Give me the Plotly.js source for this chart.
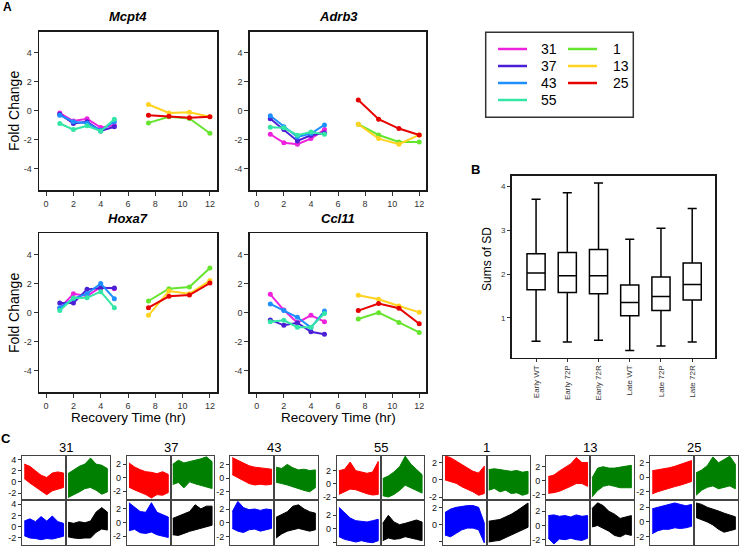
<!DOCTYPE html>
<html><head><meta charset="utf-8">
<script src="https://cdn.plot.ly/plotly-3.0.1.min.js"></script>
<style>html,body{margin:0;padding:0;background:#fff}</style></head>
<body><div id="chart" style="width:740px;height:547px"></div>
<script>
// ---------- DATA ----------
const earlyTimes = [1, 2, 3, 4, 5];
const lateTimes = [7.5, 9, 10.5, 12];
const earlyClusters = ['31', '37', '43', '55'];
const lateClusters = ['1', '13', '25'];
const legendCol1 = ['31', '37', '43', '55'];
const legendCol2 = ['1', '13', '25'];
const clusterColors = {'31':'#ee22dd','37':'#4b1fd6','43':'#1e8fff','55':'#33e6a6','1':'#66e52e','13':'#ffd320','25':'#e60000'};
const genes = ['Mcpt4', 'Adrb3', 'Hoxa7', 'Ccl11'];

const Mcpt4 = {'31':[-0.15,-0.7,-0.55,-1.15,-1.0],'37':[-0.23,-0.87,-0.75,-1.38,-1.1],'43':[-0.3,-0.75,-0.85,-1.35,-0.75],'55':[-0.87,-1.29,-1.03,-1.4,-0.57],
  '1':[-0.83,-0.41,-0.53,-1.54],'13':[0.44,-0.14,-0.09,-0.41],'25':[-0.3,-0.37,-0.48,-0.41]};
const Adrb3 = {'31':[-1.61,-2.2,-2.3,-1.91,-1.29],'37':[-0.55,-1.29,-2.07,-1.68,-1.52],'43':[-0.34,-1.1,-1.8,-1.56,-0.97],'55':[-1.13,-1.17,-1.68,-1.45,-1.61],
  '1':[-0.92,-1.66,-2.14,-2.14],'13':[-0.92,-1.91,-2.3,-1.66],'25':[0.74,-0.57,-1.22,-1.66]};
const Hoxa7 = {'31':[0.3,1.3,1.15,1.75,1.65],'37':[0.66,0.66,1.6,1.7,1.7],'43':[0.34,0.96,1.3,2.0,0.96],'55':[0.14,1.0,1.03,1.44,0.34],
  '1':[0.8,1.65,1.76,3.06],'13':[-0.18,1.49,1.3,2.2],'25':[0.34,1.12,1.21,2.03]};
const Ccl11 = {'31':[1.26,0.18,-0.69,-0.18,-0.62],'37':[-0.5,-0.87,-0.69,-1.31,-1.49],'43':[0.6,0.14,-0.32,-1.03,0.11],'55':[-0.62,-0.53,-1.0,-1.0,-0.05],
  '1':[-0.44,0.0,-0.67,-1.36],'13':[1.2,0.92,0.46,0.02],'25':[0.14,0.62,0.3,-0.76]};

const boxCats = ['Early WT','Early 72P','Early 72R','Late WT','Late 72P','Late 72R'];
const boxLow = [0.47,0.45,0.49,0.26,0.36,0.45];
const boxQ1 = [1.64,1.58,1.55,1.05,1.17,1.41];
const boxMed = [2.02,1.96,1.96,1.35,1.49,1.76];
const boxQ3 = [2.46,2.49,2.56,1.75,1.93,2.25];
const boxHigh = [3.70,3.85,4.07,2.79,3.04,3.49];

// Panel C: profile envelopes (upper / lower) per cluster and condition
const profileSteps = [0,1,2,3,4,5,6,7];
const conditionColors = {red:'#ff0000', green:'#008000', blue:'#0000ff', black:'#000000'};
const groupNames = ['31','37','43','55','1','13','25'];
const groupRanges = {'31':[-3.25,4.75],'37':[-3.3,3.3],'43':[-3.2,3.3],'55':[-2.45,4.3],'1':[-2.35,2.85],'13':[-2.75,3.6],'25':[-3.15,3.0]};
const groupTicks = {'31':[-2,0,2,4],'37':[-2,0,2],'43':[-2,0,2],'55':[-2,0,2],'1':[-2,0,2],'13':[-2,0,2],'25':[-2,0,2]};
const env31 = {red:{hi:[3.2,2.8,2.0,1.2,0.8,1.6,1.8,1.6],lo:[0.6,-0.2,-1.0,-1.6,-2.3,-1.6,-1.3,-1.0]},
  green:{hi:[1.5,2.2,2.8,3.2,4.3,3.2,3.0,2.4],lo:[-2.8,-2.3,-1.8,-1.2,-1.0,-1.5,-2.2,-1.8]},
  blue:{hi:[1.0,1.4,0.9,1.8,1.0,1.9,0.9,0.6],lo:[-1.6,-2.0,-2.1,-2.3,-2.1,-2.2,-1.9,-1.7]},
  black:{hi:[0.8,0.6,0.9,0.7,1.0,2.6,3.4,2.6],lo:[-1.8,-2.0,-2.1,-2.0,-2.0,-1.0,-0.4,-0.6]}};
const env37 = {red:{hi:[2.2,1.6,1.2,0.9,0.8,0.6,0.9,0.5],lo:[-1.4,-1.8,-2.2,-2.5,-3.0,-2.5,-2.6,-2.2]},
  green:{hi:[2.0,2.6,2.2,2.4,2.5,2.8,3.1,2.4],lo:[-1.0,-0.7,-1.5,-0.6,-0.9,-1.2,-1.4,-1.6]},
  blue:{hi:[2.9,2.2,1.6,1.5,2.9,1.5,1.2,0.8],lo:[-1.2,-1.0,-1.5,-1.6,-1.4,-1.8,-2.0,-2.2]},
  black:{hi:[0.6,0.9,1.2,1.6,2.6,2.0,2.4,2.4],lo:[-1.8,-1.9,-1.6,-1.3,-1.0,-0.8,-0.6,-0.4]}};
const env43 = {red:{hi:[3.0,2.6,2.2,1.8,1.6,1.5,1.4,1.3],lo:[0.5,0.0,-0.4,-0.8,-1.0,-0.9,-1.0,-0.9]},
  green:{hi:[1.6,1.4,2.0,1.5,1.2,1.3,1.1,1.2],lo:[-0.6,-0.8,-1.0,-1.2,-1.5,-1.8,-2.0,-1.4]},
  blue:{hi:[1.6,3.1,2.2,1.9,2.0,1.8,2.0,1.9],lo:[-0.8,-1.2,-1.4,-1.0,-0.9,-1.2,-1.0,-0.8]},
  black:{hi:[0.8,1.2,1.6,2.4,2.6,2.0,1.6,1.4],lo:[-2.2,-1.6,-1.2,-1.0,-0.8,-1.0,-1.2,-1.0]}};
const env55 = {red:{hi:[2.0,2.2,3.3,2.0,1.8,1.6,1.8,3.4],lo:[-1.6,-1.2,-0.8,-0.9,-1.2,-1.5,-1.7,-1.6]},
  green:{hi:[0.8,1.2,1.8,2.6,4.2,3.0,2.2,1.4],lo:[-1.8,-2.0,-1.6,-1.0,-0.2,-0.5,-1.0,-1.4]},
  blue:{hi:[3.2,2.4,1.6,1.2,1.1,1.0,1.2,1.4],lo:[-1.2,-1.6,-1.8,-2.0,-1.8,-2.0,-2.1,-1.8]},
  black:{hi:[0.8,2.0,1.0,0.6,0.8,1.0,1.3,1.0],lo:[-1.8,-1.4,-1.6,-1.5,-1.2,-1.4,-1.6,-1.8]}};
const env1 = {red:{hi:[2.8,2.6,2.2,1.8,1.4,1.0,0.8,1.6],lo:[0.0,-0.2,-0.4,-0.8,-1.1,-1.4,-1.8,-1.6]},
  green:{hi:[1.2,1.3,1.2,1.1,1.0,1.1,0.9,1.0],lo:[-1.2,-1.0,-1.4,-1.2,-1.6,-1.5,-1.8,-1.6]},
  blue:{hi:[1.4,1.8,2.0,2.1,2.2,2.2,2.0,0.2],lo:[-1.2,-1.4,-1.0,-0.6,-0.4,-0.4,-0.6,-2.1]},
  black:{hi:[0.4,0.5,0.6,0.9,1.2,1.6,2.0,2.5],lo:[-2.0,-1.9,-1.8,-1.5,-1.2,-0.9,-0.6,-0.3]}};
const env13 = {red:{hi:[0.6,0.8,1.4,1.9,2.4,3.3,2.6,2.6],lo:[-1.8,-1.7,-1.5,-1.2,-0.8,-0.4,-0.4,-0.8]},
  green:{hi:[0.4,1.8,2.0,1.8,1.8,1.9,2.0,2.2],lo:[-2.3,-1.4,-0.8,-0.6,-0.8,-1.0,-1.0,-1.0]},
  blue:{hi:[1.4,1.5,1.3,1.4,1.2,1.5,1.3,1.4],lo:[-1.8,-2.6,-1.9,-2.0,-1.8,-2.0,-2.1,-1.8]},
  black:{hi:[2.4,3.2,2.8,2.0,1.6,1.0,1.2,1.4],lo:[-0.2,0.0,-0.4,-0.8,-1.4,-1.6,-1.2,-1.4]}};
const env25 = {red:{hi:[0.9,1.0,1.2,1.3,1.5,1.8,2.0,2.3],lo:[-2.3,-2.0,-1.8,-1.5,-1.3,-1.1,-0.9,-0.6]},
  green:{hi:[0.6,1.0,1.6,2.8,2.0,2.4,2.9,1.8],lo:[-2.5,-1.8,-1.4,-1.2,-1.6,-1.4,-1.2,-1.6]},
  blue:{hi:[1.8,2.0,2.3,2.5,2.6,2.4,2.2,2.4],lo:[-1.6,-1.2,-1.0,-1.0,-0.8,-0.9,-0.8,-0.6]},
  black:{hi:[2.6,2.4,2.0,1.8,1.5,1.2,1.0,0.7],lo:[0.6,0.3,0.0,-0.4,-1.0,-1.4,-1.2,-1.0]}};
const groupEnvelopes = {'31':env31,'37':env37,'43':env43,'55':env55,'1':env1,'13':env13,'25':env25};

// ---------- BUILD ----------
const W = 740, H = 547;
const FONT = 'Liberation Sans, Arial, sans-serif';
const traces = [];
const layout = {width:W, height:H, margin:{l:0,r:0,t:0,b:0}, showlegend:false,
  paper_bgcolor:'#fff', plot_bgcolor:'rgba(0,0,0,0)', font:{family:FONT, color:'#000'},
  annotations:[], shapes:[]};
let n = 0;
function axes(l, r, t, b, xo, yo) {
  n++;
  const xk = n === 1 ? 'xaxis' : 'xaxis' + n, yk = n === 1 ? 'yaxis' : 'yaxis' + n;
  const xid = n === 1 ? 'x' : 'x' + n, yid = n === 1 ? 'y' : 'y' + n;
  layout[xk] = Object.assign({domain:[l/W, r/W], anchor:yid, showgrid:false, zeroline:false, fixedrange:true}, xo);
  layout[yk] = Object.assign({domain:[1-b/H, 1-t/H], anchor:xid, showgrid:false, zeroline:false, fixedrange:true}, yo);
  return [xid, yid];
}
function ann(text, x, y, o) {
  layout.annotations.push(Object.assign({text:text, x:x/W, y:1-y/H, xref:'paper', yref:'paper', showarrow:false,
    xanchor:'center', yanchor:'middle', font:{family:FONT, size:13, color:'#000'}}, o || {}));
}
const lab = v => v.map(t => String(t));

// Panel A
const geneData = {Mcpt4, Adrb3, Hoxa7, Ccl11};
const aBoxes = [[39.3,216.7,31.7,190],[250,426,31.7,190],[39.3,216.7,233.3,392],[250,426,233.3,392]];
const aTitleY = [17,17,218,218];
genes.forEach((g, i) => {
  const [l, r, t, b] = aBoxes[i];
  const common = {showline:true, mirror:true, linecolor:'#1a1a1a', linewidth:1.8, ticks:'outside', ticklen:4,
    tickwidth:1, tickcolor:'#333', tickfont:{family:FONT, size:9, color:'#333'}};
  const yv = [-4,-2,0,2,4], xv = [0,2,4,6,8,10,12];
  const [xa, ya] = axes(l, r, t, b,
    Object.assign({range:[-0.5,12.5], tickvals:xv, ticktext:lab(xv)}, common),
    Object.assign({range:[-5.45,5.45], tickvals:yv, ticktext:lab(yv)}, common));
  const d = geneData[g];
  earlyClusters.forEach(c => traces.push({x:earlyTimes, y:d[c], xaxis:xa, yaxis:ya, mode:'lines+markers',
    line:{color:clusterColors[c], width:2}, marker:{color:clusterColors[c], size:5}, name:c}));
  lateClusters.forEach(c => traces.push({x:lateTimes, y:d[c], xaxis:xa, yaxis:ya, mode:'lines+markers',
    line:{color:clusterColors[c], width:2}, marker:{color:clusterColors[c], size:5}, name:c}));
  ann('<b><i>' + g + '</i></b>', (l + r) / 2, aTitleY[i], {font:{family:FONT, size:13, color:'#000'}});
});
ann('Fold Change', 14, 111, {textangle:-90, font:{family:FONT, size:14}});
ann('Fold Change', 14, 313, {textangle:-90, font:{family:FONT, size:14}});
ann('Recovery Time (hr)', 128, 417, {font:{family:FONT, size:13.5}});
ann('Recovery Time (hr)', 338, 417, {font:{family:FONT, size:13.5}});
ann('<b>A</b>', 7, 7, {font:{family:FONT, size:12}});

// Legend (manual, two columns)
layout.shapes.push({type:'rect', xref:'paper', yref:'paper', x0:485.7/W, x1:633.3/W, y0:1-117.3/H, y1:1-32.3/H,
  line:{color:'#333', width:1.5}});
const legRows = [49, 66, 83, 100];
[[legendCol1, 498, 539], [legendCol2, 568, 611]].forEach(([items, lx, tx]) => {
  items.forEach((c, k) => {
    layout.shapes.push({type:'line', xref:'paper', yref:'paper', x0:lx/W, x1:(lx+29)/W, y0:1-legRows[k]/H, y1:1-legRows[k]/H,
      line:{color:clusterColors[c], width:2.5}});
    ann(c, tx, legRows[k], {xanchor:'left', font:{family:FONT, size:14}});
  });
});

// Panel B
{
  const common = {showline:true, mirror:true, linecolor:'#1a1a1a', linewidth:1.6, ticks:'outside', ticklen:3,
    tickcolor:'#333', tickfont:{family:FONT, size:8, color:'#333'}};
  const [xa, ya] = axes(511.7, 715, 176, 357.5,
    Object.assign({type:'category', range:[-0.78,5.73], tickangle:-90}, common),
    Object.assign({range:[0.1,4.23], tickvals:[1,2,3,4]}, common));
  traces.push({type:'box', x:boxCats, q1:boxQ1, median:boxMed, q3:boxQ3, lowerfence:boxLow, upperfence:boxHigh,
    xaxis:xa, yaxis:ya, fillcolor:'#fff', line:{color:'#000', width:1.5}, whiskerwidth:0.5, boxpoints:false});
  layout.boxgap = 0.17;
  ann('Sums of SD', 487, 259, {textangle:-90, font:{family:FONT, size:12}});
  ann('<b>B</b>', 475, 170, {font:{family:FONT, size:13}});
}

// Panel C
ann('<b>C</b>', 6, 438, {font:{family:FONT, size:13}});
const gStart = [22, 126.7, 230, 336.7, 442.7, 546, 650];
const subW = 43.8, rowY = [[455.5,500],[500,545]];
const layoutPos = {red:[0,0], green:[1,0], blue:[0,1], black:[1,1]};
groupNames.forEach((g, gi) => {
  const x0 = gStart[gi];
  ann(g, x0 + subW, 447, {font:{family:FONT, size:13}});
  const env = groupEnvelopes[g];
  Object.keys(layoutPos).forEach(cond => {
    const [cx, ry] = layoutPos[cond];
    const l = x0 + cx * subW, r = l + subW, t = rowY[ry][0], b = rowY[ry][1];
    const tv = groupTicks[g];
    const [xa, ya] = axes(l, r, t, b,
      {range:[-0.4,7.4], showticklabels:false, ticks:'', showline:true, mirror:true, linecolor:'#444', linewidth:1},
      {range:groupRanges[g], showline:true, mirror:true, linecolor:'#444', linewidth:1,
       showticklabels:cx === 0, ticks:cx === 0 ? 'outside' : '', ticklen:3, tickcolor:'#333',
       tickvals:tv, ticktext:lab(tv), tickfont:{family:FONT, size:9, color:'#111'}});
    const e = env[cond];
    const xs = profileSteps.concat(profileSteps.slice().reverse());
    const ys = e.hi.concat(e.lo.slice().reverse());
    traces.push({x:xs, y:ys, xaxis:xa, yaxis:ya, mode:'lines', fill:'toself',
      fillcolor:conditionColors[cond], line:{color:conditionColors[cond], width:1}, hoverinfo:'skip'});
  });
});

Plotly.newPlot('chart', traces, layout, {displayModeBar:false, staticPlot:true});
</script></body></html>
